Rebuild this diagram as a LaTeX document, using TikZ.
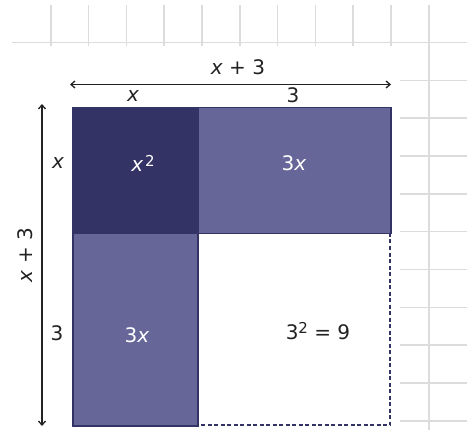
\documentclass[tikz,border=0pt]{standalone}
\usepackage{fontspec}
\setmainfont{DejaVu Sans}
\usetikzlibrary{arrows.meta}
\definecolor{darkblk}{HTML}{333366}
\definecolor{midblk}{HTML}{666699}
\definecolor{gridc}{HTML}{DCDCDC}
\definecolor{txt}{HTML}{222222}
\tikzset{
  gridline/.style={draw=gridc, line width=1.6pt},
  tile/.style={draw=darkblk, line width=1.5pt},
  dim/.style={draw=txt, line width=1.3pt, {Straight Barb[length=4pt,width=7pt]}-{Straight Barb[length=4pt,width=7pt]}},
  lbl/.style={font=\fontsize{20}{24}\selectfont, text=txt, inner sep=0pt},
  wlbl/.style={font=\fontsize{20}{24}\selectfont, text=white, inner sep=0pt}
}
\begin{document}
\begin{tikzpicture}[x=1pt,y=-1pt]
\useasboundingbox (0,0) rectangle (468,430);
% grid top
\foreach \gx in {50.7,88.5,126.3,164.1,201.9,239.7,277.5,315.3,353.1,390.9} {
  \draw[gridline] (\gx,5) -- (\gx,46);
}
\draw[gridline] (429,5) -- (429,430);
\draw[gridline] (12,42.7) -- (466.5,42.7);
\foreach \gy in {80.5,118.3,156.1,193.9,231.7,269.5,307.3,345.1,382.9,420.7} {
  \draw[gridline] (400,\gy) -- (466.5,\gy);
}
% tiles
\fill[white] (197,233) rectangle (390,425);
\draw[darkblk, line width=1.5pt, dashed, dash pattern=on 4pt off 2.5pt] (390,233) -- (390,425) -- (197,425);
\node[tile, fill=darkblk, minimum width=125pt, minimum height=126pt, inner sep=0pt, anchor=north west] (xx) at (72,107) {};
\node[tile, fill=midblk, minimum width=193pt, minimum height=126pt, inner sep=0pt, anchor=north west] (tx) at (197,107) {};
\node[tile, fill=midblk, minimum width=125pt, minimum height=192pt, inner sep=0pt, anchor=north west] (xt) at (72,233) {};
\node[wlbl] (l1) at (143,163) {\itshape x\upshape\kern2pt\raisebox{5pt}{\fontsize{15}{18}\selectfont 2}};
\node[wlbl] (l2) at (294,163) {3\itshape x};
\node[wlbl] (l3) at (137,335) {3\itshape x};
\node[lbl] (l4) at (318,331) {3\raisebox{6pt}{\fontsize{15}{18}\selectfont 2} = 9};
% dimension arrows
\coordinate (ha) at (70,84.5);
\coordinate (hb) at (391,84.5);
\draw[dim] (ha) -- (hb);
\coordinate (va) at (42,104);
\coordinate (vb) at (42,426);
\draw[dim] (va) -- (vb);
\node[lbl] (top) at (238,67) {\itshape x\upshape{} + 3};
\node[lbl] (tx1) at (133,96) {\itshape x};
\node[lbl] (tx2) at (293,95) {3};
\node[lbl, rotate=90] (side) at (25,255) {\itshape x\upshape{} + 3};
\node[lbl] (sx1) at (58,163) {\itshape x};
\node[lbl] (sx2) at (57,333) {3};
\end{tikzpicture}
\end{document}
